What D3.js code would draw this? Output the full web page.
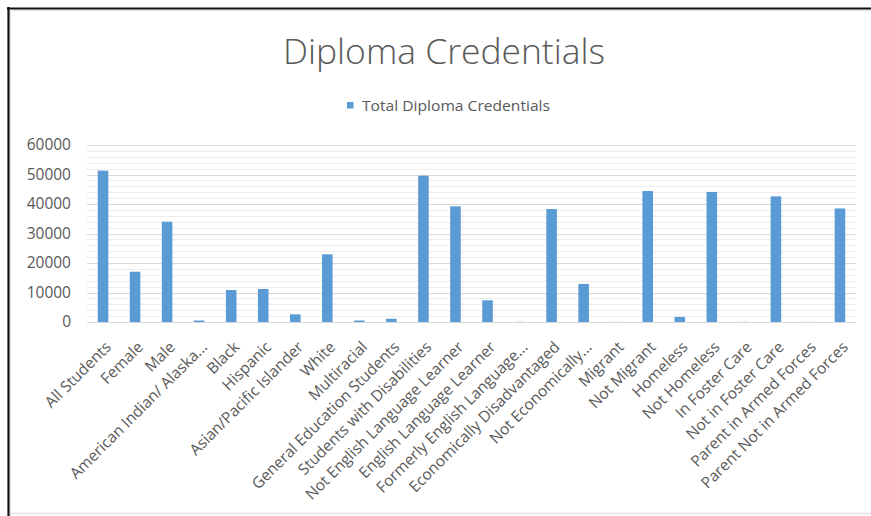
<!DOCTYPE html>
<html>
<head>
<meta charset="utf-8">
<script src="https://cdn.jsdelivr.net/npm/d3@7"></script>
<style>
  html, body { margin: 0; padding: 0; background: #fff; }
  svg { display: block; }
  text { font-family: "Open Sans", "Liberation Sans", sans-serif; fill: #595959; }
</style>
</head>
<body>
<div id="chart"></div>
<script>
// Diploma credentials by student group
const categories = [
  "All Students", "Female", "Male", "American Indian/ Alaska...", "Black", "Hispanic",
  "Asian/Pacific Islander", "White", "Multiracial", "General Education Students",
  "Students with Disabilities", "Not English Language Learner", "English Language Learner",
  "Formerly English Language...", "Economically Disadvantaged", "Not Economically...",
  "Migrant", "Not Migrant", "Homeless", "Not Homeless", "In Foster Care",
  "Not in Foster Care", "Parent in Armed Forces", "Parent Not in Armed Forces"
];
const totalDiplomaCredentials = [
  51300, 17050, 34000, 500, 10850, 11200,
  2600, 22950, 500, 1100,
  49600, 39200, 7350,
  60, 38300, 12900,
  40, 44400, 1700, 44100, 50,
  42600, 40, 38500
];
const seriesName = "Total Diploma Credentials";
const yTicks = [0, 10000, 20000, 30000, 40000, 50000, 60000];
const yMinorStep = 2000;

const W = 871, H = 516;
const svg = d3.select("#chart").append("svg").attr("width", W).attr("height", H);

// frame
svg.append("rect").attr("x", 0).attr("y", 0).attr("width", W).attr("height", H).attr("fill", "#fff");
svg.append("line").attr("x1", 10).attr("x2", W).attr("y1", 513.5).attr("y2", 513.5)
  .attr("stroke", "#e3e3e3").attr("stroke-width", 1.5);
svg.append("line").attr("x1", 11).attr("x2", W).attr("y1", 10.5).attr("y2", 10.5)
  .attr("stroke", "#e6e6e6").attr("stroke-width", 1.5);
svg.append("line").attr("x1", 10.5).attr("x2", 10.5).attr("y1", 11).attr("y2", H)
  .attr("stroke", "#e6e6e6").attr("stroke-width", 1.5);
svg.append("line").attr("x1", 7).attr("x2", W).attr("y1", 8.5).attr("y2", 8.5)
  .attr("stroke", "#111").attr("stroke-width", 2.2);
svg.append("line").attr("x1", 8.5).attr("x2", 8.5).attr("y1", 7).attr("y2", H)
  .attr("stroke", "#111").attr("stroke-width", 2.2);

const plot = { left: 87, right: 856, top: 145, bottom: 322 };

const x = d3.scaleBand()
  .domain(categories)
  .range([plot.left, plot.right])
  .paddingInner(0.67)
  .paddingOuter(0.335);

const y = d3.scaleLinear()
  .domain([0, 60000])
  .range([plot.bottom, plot.top]);

// minor gridlines
const minor = d3.range(0, 60000 + 1, yMinorStep).filter(v => v % 10000 !== 0);
svg.append("g").selectAll("line").data(minor).join("line")
  .attr("x1", plot.left).attr("x2", plot.right)
  .attr("y1", d => Math.round(y(d)) + 0.5).attr("y2", d => Math.round(y(d)) + 0.5)
  .attr("stroke", "#ececec").attr("stroke-width", 1);

// major gridlines
svg.append("g").selectAll("line").data(yTicks).join("line")
  .attr("x1", plot.left).attr("x2", plot.right)
  .attr("y1", d => Math.round(y(d)) + 0.5).attr("y2", d => Math.round(y(d)) + 0.5)
  .attr("stroke", "#d9d9d9").attr("stroke-width", 1.2);

// y axis labels
const yAxis = d3.axisLeft(y).tickValues(yTicks).tickSize(0).tickPadding(0).tickFormat(d3.format("d"));
const gy = svg.append("g").attr("transform", `translate(71,0)`).call(yAxis);
gy.select(".domain").remove();
gy.selectAll("text").style("font-size", "15.5px").attr("fill", "#595959")
  .style("font-family", "'Open Sans', sans-serif");

// bars
svg.append("g").selectAll("rect").data(categories).join("rect")
  .attr("x", d => x(d))
  .attr("width", x.bandwidth())
  .attr("y", (d, i) => y(totalDiplomaCredentials[i]))
  .attr("height", (d, i) => y(0) - y(totalDiplomaCredentials[i]))
  .attr("fill", "#5b9bd5");

// category labels
const xAxis = d3.axisBottom(x).tickSize(0).tickPadding(0);
const gx = svg.append("g").attr("transform", `translate(0,${plot.bottom})`).call(xAxis);
gx.select(".domain").remove();
gx.selectAll(".tick text")
  .attr("text-anchor", "end")
  .attr("x", 0).attr("y", 0).attr("dy", 0)
  .attr("transform", "translate(9,26) rotate(-45)")
  .style("font-size", "15.5px")
  .style("font-family", "'Open Sans', sans-serif")
  .attr("fill", "#595959");

// title
svg.append("text")
  .attr("x", 444).attr("y", 64)
  .attr("text-anchor", "middle")
  .attr("textLength", 322)
  .attr("lengthAdjust", "spacingAndGlyphs")
  .style("font-size", "34px")
  .style("font-weight", 300)
  .text("Diploma Credentials");

// legend
const lg = svg.append("g");
lg.append("rect").attr("x", 347).attr("y", 102).attr("width", 6.5).attr("height", 6.5).attr("fill", "#5b9bd5");
lg.append("text").attr("x", 362).attr("y", 111)
  .attr("textLength", 188)
  .attr("lengthAdjust", "spacingAndGlyphs")
  .style("font-size", "14.5px")
  .text(seriesName);
</script>
</body>
</html>
